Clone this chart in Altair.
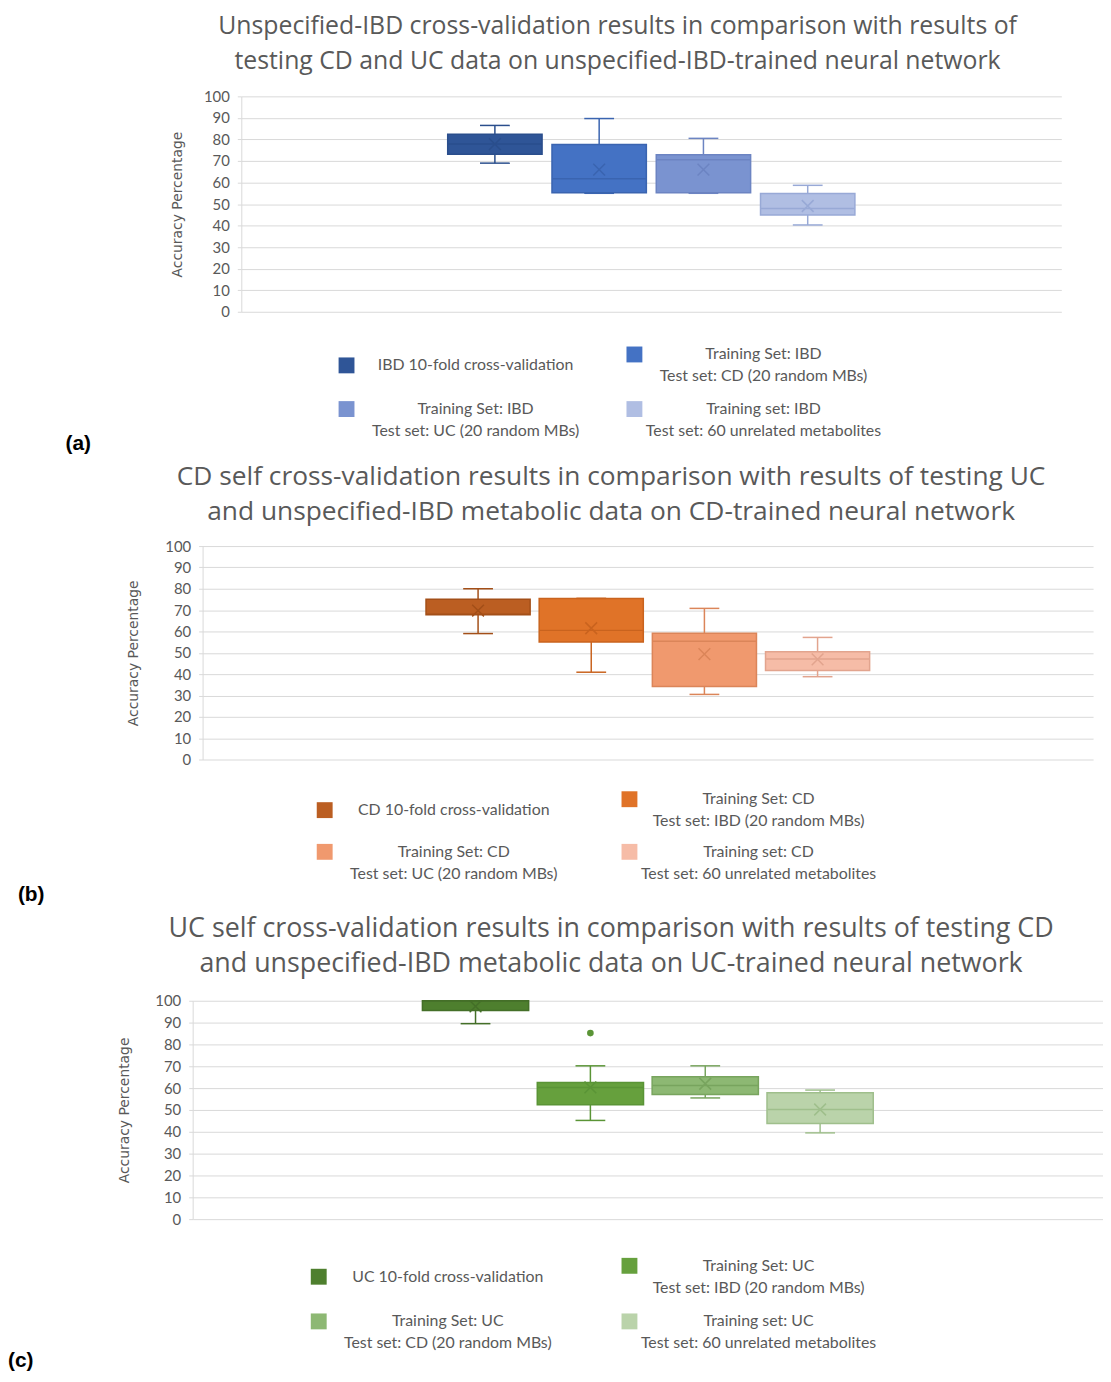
import altair as alt
import pandas as pd

# ---------------- Panel (a) ----------------
series_a = ["IBD 10-fold cross-validation",
            "Training Set: IBD\nTest set: CD (20 random MBs)",
            "Training Set: IBD\nTest set: UC (20 random MBs)",
            "Training set: IBD\nTest set: 60 unrelated metabolites"]
min_a = [69.0, 55.0, 55.0, 40.3]
q1_a = [73.1, 55.2, 55.2, 44.9]
median_a = [77.9, 61.7, 70.6, 47.9]
q3_a = [82.4, 77.7, 72.9, 54.9]
max_a = [86.5, 89.7, 80.5, 58.7]
mean_a = [77.8, 66.0, 66.0, 49.1]
outlier_a = [None, None, None, None]
fills_a = ["#2F5597", "#4472C4", "#7A93D0", "#B0BEE3"]
strokes_a = ["#2A4E8C", "#3A64B0", "#6C84C2", "#98A9D6"]
title_a = ["Unspecified-IBD cross-validation results in comparison with results of",
           "testing CD and UC data on unspecified-IBD-trained neural network"]

# ---------------- Panel (b) ----------------
series_b = ["CD 10-fold cross-validation",
            "Training Set: CD\nTest set: IBD (20 random MBs)",
            "Training Set: CD\nTest set: UC (20 random MBs)",
            "Training set: CD\nTest set: 60 unrelated metabolites"]
min_b = [59.0, 40.9, 30.5, 38.8]
q1_b = [67.8, 55.1, 34.2, 41.7]
median_b = [68.0, 60.5, 55.4, 47.1]
q3_b = [75.1, 75.4, 59.1, 50.5]
max_b = [80.0, 75.5, 70.8, 57.2]
mean_b = [69.8, 61.5, 49.4, 46.9]
outlier_b = [None, None, None, None]
fills_b = ["#BB5E22", "#E07328", "#F0996E", "#F6BCA7"]
strokes_b = ["#A34F18", "#C9631E", "#DB8559", "#E2A48E"]
title_b = ["CD self cross-validation results in comparison with results of testing UC",
           "and unspecified-IBD metabolic data on CD-trained neural network"]

# ---------------- Panel (c) ----------------
series_c = ["UC 10-fold cross-validation",
            "Training Set: UC\nTest set: IBD (20 random MBs)",
            "Training Set: UC\nTest set: CD (20 random MBs)",
            "Training set: UC\nTest set: 60 unrelated metabolites"]
min_c = [89.5, 45.2, 55.5, 39.5]
q1_c = [95.5, 52.4, 57.1, 43.8]
median_c = [100.0, 60.3, 61.2, 50.2]
q3_c = [100.0, 62.6, 65.2, 57.9]
max_c = [100.0, 70.2, 70.2, 59.1]
mean_c = [97.4, 60.3, 62.0, 50.2]
outlier_c = [None, 85.2, None, None]
fills_c = ["#4E7F2E", "#66A03D", "#8DB873", "#BAD3AA"]
strokes_c = ["#446F28", "#5A9436", "#78A45E", "#9FBF8C"]
title_c = ["UC self cross-validation results in comparison with results of testing CD",
           "and unspecified-IBD metabolic data on UC-trained neural network"]

category = "1"
y_ticks = list(range(0, 101, 10))
GRID = "#D9D9D9"
TXT = "#595959"
IND = dict(color="independent", stroke="independent", fill="independent")


def make_df(series, mins, q1s, meds, q3s, maxs, means, outliers):
    n = len(series)
    return pd.DataFrame({"category": [category] * n, "series": series, "min": mins, "q1": q1s,
                         "median": meds, "q3": q3s, "max": maxs, "mean": means,
                         "outlier": outliers})


def panel(df, series, fills, strokes, title_lines, title_size, width, height,
          group_pad, pad_inner, axis_title_pad, title_dx, title_offset):
    n = len(series)
    group_w = width / (1 + 2 * group_pad)
    step = group_w / n
    box_w = step * (1 - pad_inner)

    x = alt.X("category:N", scale=alt.Scale(paddingInner=0, paddingOuter=group_pad),
              axis=None, title=None)
    xo = alt.XOffset("series:N", sort=series,
                     scale=alt.Scale(domain=series, paddingInner=pad_inner,
                                     paddingOuter=pad_inner / 2))
    yscale = alt.Scale(domain=[0, 100], nice=False, zero=True)
    yaxis = alt.Axis(values=y_ticks, grid=True, gridColor=GRID, gridWidth=1,
                     domainColor=GRID, tickColor=GRID, tickSize=4,
                     labelFont="Lato", labelFontSize=15, labelColor=TXT, labelPadding=8,
                     titleFont="DejaVu Sans", titleFontSize=14, titleFontWeight="normal",
                     titleColor=TXT, titlePadding=axis_title_pad)

    def Y(f):
        return alt.Y(f"{f}:Q", scale=yscale, axis=yaxis, title="Accuracy Percentage")

    stroke_scale = alt.Scale(domain=series, range=strokes)
    stroke_enc = alt.Stroke("series:N", scale=stroke_scale, legend=None)
    fill_enc = alt.Fill("series:N", scale=stroke_scale, legend=None)

    base = alt.Chart(df)
    box = base.mark_bar(strokeWidth=1.5, opacity=1).encode(
        x=x, xOffset=xo, y=Y("q1"), y2="q3",
        color=alt.Color("series:N", scale=alt.Scale(domain=series, range=fills), legend=None),
        stroke=stroke_enc)
    whisker = base.mark_rule(strokeWidth=1.5).encode(
        x=x, xOffset=xo, y=Y("min"), y2="max", stroke=stroke_enc)
    median = base.mark_tick(size=box_w - 1, thickness=1.5, opacity=1).encode(
        x=x, xOffset=xo, y=Y("median"), fill=fill_enc)
    cap_lo = base.mark_tick(size=30, thickness=1.5, opacity=1).encode(
        x=x, xOffset=xo, y=Y("min"), fill=fill_enc)
    cap_hi = base.mark_tick(size=30, thickness=1.5, opacity=1).encode(
        x=x, xOffset=xo, y=Y("max"), fill=fill_enc)
    mean = base.mark_point(shape="M-1,-1L1,1M-1,1L1,-1", size=140, filled=False,
                           strokeWidth=1.5, opacity=1).encode(
        x=x, xOffset=xo, y=Y("mean"), stroke=stroke_enc)
    layers = [whisker, box, median, cap_lo, cap_hi, mean]
    if df["outlier"].notna().any():
        outl = base.transform_filter("isValid(datum.outlier)").mark_circle(
            size=45, opacity=1).encode(x=x, xOffset=xo, y=Y("outlier"), fill=fill_enc)
        layers.append(outl)

    return alt.layer(*layers).properties(
        width=width, height=height,
        title=alt.TitleParams(text=title_lines, font="Open Sans", fontSize=title_size,
                              fontWeight="normal", color=TXT, lineHeight=35, anchor="middle",
                              frame="group", dx=title_dx, offset=title_offset))


def legend_chart(df, series, fills, strokes, col_pad, row_pad, label_offset):
    legend = alt.Legend(orient="bottom", direction="horizontal", columns=2, title=None,
                        offset=0, padding=0, symbolType="square", symbolSize=256,
                        symbolOpacity=1, symbolStrokeWidth=0,
                        labelFont="Lato", labelFontSize=16, labelColor=TXT,
                        labelAlign="center", labelBaseline="middle",
                        labelOffset=label_offset, labelLimit=0,
                        columnPadding=col_pad, rowPadding=row_pad,
                        labelExpr="split(datum.label, '\\n')")
    return alt.Chart(df).mark_square(opacity=0).encode(
        color=alt.Color("series:N", scale=alt.Scale(domain=series, range=fills), legend=legend)
    ).properties(width=1, height=1)


def spacer(w):
    return alt.Chart(pd.DataFrame({"s": [0]})).mark_point(opacity=0).properties(width=w, height=1)


def tag_chart(tag, lead_width, tag_x, tag_y):
    tag_df = pd.DataFrame({"tag": [tag]})
    return alt.Chart(tag_df).mark_text(align="left", baseline="middle", font="Liberation Sans",
                                       fontWeight="bold", fontSize=21, color="black").encode(
        x=alt.value(tag_x), y=alt.value(tag_y), text="tag:N").properties(width=lead_width, height=1)


def block(pan, leg, lead_w, tag, leg_lead, tag_x, tag_y, inner_space):
    top = alt.hconcat(spacer(lead_w), pan, spacing=0).resolve_scale(**IND).resolve_legend(**IND)
    bottom = alt.hconcat(tag_chart(tag, leg_lead, tag_x, tag_y), leg, spacing=0).resolve_scale(
        **IND).resolve_legend(**IND)
    return alt.vconcat(top, bottom, spacing=inner_space).resolve_scale(**IND).resolve_legend(**IND)


df_a = make_df(series_a, min_a, q1_a, median_a, q3_a, max_a, mean_a, outlier_a)
df_b = make_df(series_b, min_b, q1_b, median_b, q3_b, max_b, mean_b, outlier_b)
df_c = make_df(series_c, min_c, q1_c, median_c, q3_c, max_c, mean_c, outlier_c)

pa = panel(df_a, series_a, fills_a, strokes_a, title_a, 25, 826, 217, 0.483, 0.095, 19, -34, 16)
pb = panel(df_b, series_b, fills_b, strokes_b, title_b, 26.5, 897, 215, 0.4836, 0.08, 24, -37, 14)
pc = panel(df_c, series_c, fills_c, strokes_c, title_c, 27, 917, 220, 0.4907, 0.075, 24, -37, 16)

la = legend_chart(df_a, series_a, fills_a, strokes_a, 47, 17, 122)
lb = legend_chart(df_b, series_b, fills_b, strokes_b, 64, 15, 122)
lc = legend_chart(df_c, series_c, fills_c, strokes_c, 70, 18, 122)

block_a = block(pa, la, 163, "(a)", 330, 58, 99, 23)
block_b = block(pb, lb, 119, "(b)", 308, 10, 106, 20)
block_c = block(pc, lc, 109, "(c)", 302, 0, 105, 27)

chart = alt.vconcat(block_a, block_b, block_c, spacing=10,
                    padding={"left": 0, "top": 1, "right": 0, "bottom": 0}).resolve_scale(
    x="independent", y="independent", xOffset="independent", **IND
).resolve_legend(**IND).configure(
    view=alt.ViewConfig(strokeWidth=0), style={"guide-label": {"lineHeight": 22}})

chart.save("out.html", embed_options={"renderer": "svg", "actions": False})
